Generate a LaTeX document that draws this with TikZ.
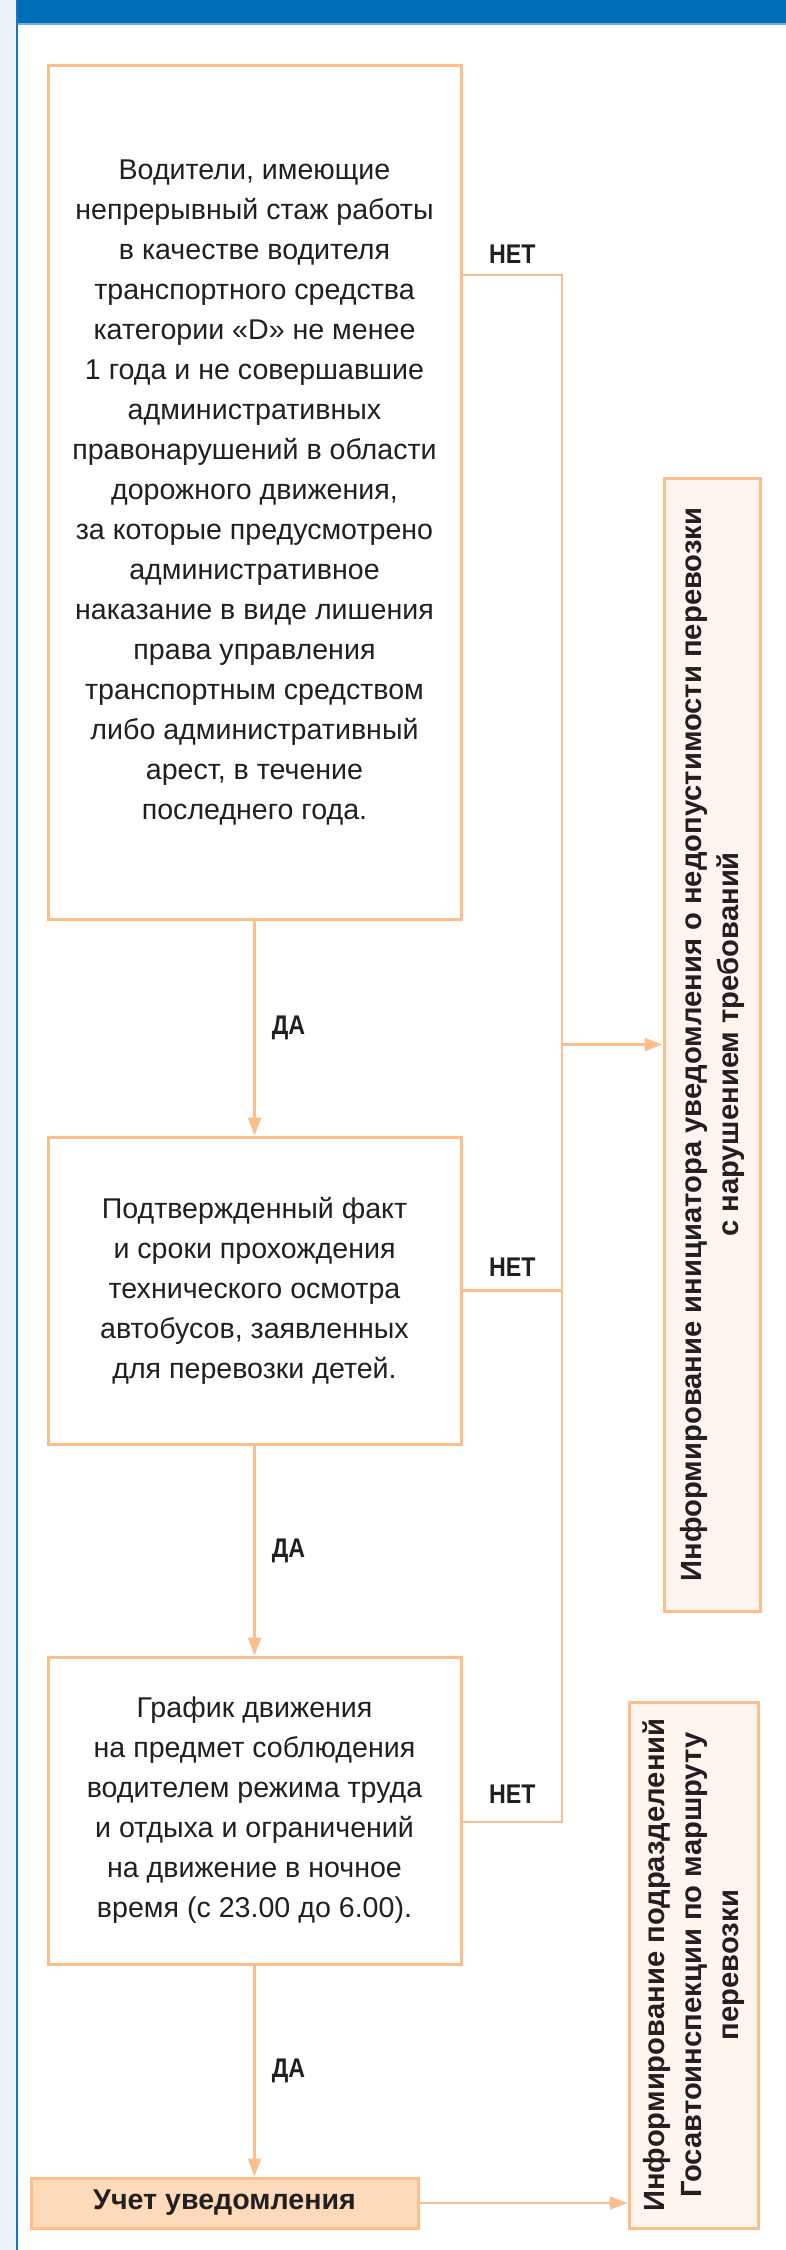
\documentclass[tikz,border=0pt]{standalone}
\usepackage{fontspec}
\setmainfont{Liberation Sans}
\newfontfamily\narrowfont[FakeStretch=0.86]{Liberation Sans}
\usetikzlibrary{positioning,calc,arrows.meta}

\definecolor{peach}{HTML}{FBBF8C}
\definecolor{peachfill}{HTML}{FDDBBA}
\definecolor{creamfill}{HTML}{FDF5EE}
\definecolor{headblue}{HTML}{006DB8}
\definecolor{edgeblue}{HTML}{1A74C0}
\definecolor{stripblue}{HTML}{E9F1F9}
\definecolor{inkgray}{HTML}{231F20}

\tikzset{
  checkbox/.style={draw=peach, line width=1.5pt, fill=white, inner sep=0pt, align=center,
    minimum width=206.5pt, text=inkgray, font=\fontsize{14.3}{20}\selectfont},
  recordbox/.style={draw=peach, line width=1.5pt, fill=peachfill, inner sep=0pt,
    minimum width=193.5pt, minimum height=25pt, text=inkgray, font=\bfseries\fontsize{14.3}{18}\selectfont},
  infobox/.style={draw=peach, line width=1.5pt, fill=creamfill, inner sep=0pt, align=center,
    rotate=90, text=inkgray, font=\bfseries\fontsize{14.6}{18.5}\selectfont},
  flow/.style={draw=peach, line width=1.3pt, -{Triangle[length=9pt,width=6.5pt]}},
  wire/.style={draw=peach, line width=1.3pt},
  answer/.style={inner sep=0pt, text=inkgray, font=\narrowfont\bfseries\fontsize{13.5}{16}\selectfont}
}

\begin{document}
\begin{tikzpicture}[x=0.5pt,y=-0.5pt]
  \useasboundingbox (0,0) rectangle (786,2250);
  % page frame
  \fill[stripblue] (0,0) rectangle (16,2250);
  \fill[headblue] (16,0) rectangle (786,23);
  \fill[headblue!55!white] (18,23) rectangle (786,25);
  \draw[edgeblue, line width=1.1pt] (17,0) -- (17,2250);

  % checks
  \node[checkbox, minimum height=427pt] (drivers) at (254.5,492)
    {Водители, имеющие\\непрерывный стаж работы\\в качестве водителя\\транспортного средства\\
     категории «D» не менее\\1 года и не совершавшие\\административных\\правонарушений в области\\
     дорожного движения,\\за которые предусмотрено\\административное\\наказание в виде лишения\\
     права управления\\транспортным средством\\либо административный\\арест, в течение\\последнего года.};
  \node[checkbox, minimum height=153.5pt] (techcheck) at (254.5,1290.5)
    {Подтвержденный факт\\и сроки прохождения\\технического осмотра\\автобусов, заявленных\\для перевозки детей.};
  \node[checkbox, minimum height=153.5pt] (schedule) at (254.5,1810.5)
    {График движения\\на предмет соблюдения\\водителем режима труда\\и отдыха и ограничений\\
     на движение в ночное\\время (с 23.00 до 6.00).};
  \node[recordbox] (record) at (224.5,2203) {Учет уведомления};

  % notices
  \node[infobox, minimum width=566.5pt, minimum height=48pt] (refusal) at (712,1044.5)
    {Информирование инициатора уведомления о недопустимости перевозки\\с нарушением требований};
  \node[infobox, minimum width=263pt, minimum height=64.5pt] (police) at (693.5,1965)
    {Информирование подразделений\\Госавтоинспекции по маршруту\\перевозки};

  % "no" branch
  \coordinate (bus1) at (562,275);
  \coordinate (bus3) at (562,1822);
  \draw[wire] (drivers.east |- bus1) -- (bus1) -- (bus3) -- (schedule.east |- bus3);
  \draw[wire] (techcheck.east) -- (techcheck.east -| bus1);
  \draw[flow] (bus1 |- refusal.north) -- (refusal.north);
  \node[answer, anchor=south, yshift=5.5pt] (no1) at ($(drivers.east |- bus1)!0.5!(bus1)$) {НЕТ};
  \node[answer, anchor=south, yshift=7pt] (no2) at ($(techcheck.east)!0.5!(techcheck.east -| bus1)$) {НЕТ};
  \node[answer, anchor=south, yshift=9pt] (no3) at ($(schedule.east |- bus3)!0.5!(bus3)$) {НЕТ};

  % "yes" branch
  \draw[flow] (drivers.south) -- (techcheck.north);
  \draw[flow] (techcheck.south) -- (schedule.north);
  \draw[flow] (schedule.south) -- (schedule.south |- record.north);
  \draw[flow] (record.east) -- (record.east -| police.north);
  \node[answer, anchor=west, xshift=8.5pt] (yes1) at ($(drivers.south)!0.5!(techcheck.north)$) {ДА};
  \node[answer, anchor=west, xshift=8.5pt] (yes2) at ($(techcheck.south)!0.5!(schedule.north)$) {ДА};
  \node[answer, anchor=west, xshift=8.5pt] (yes3) at ($(schedule.south)!0.5!(schedule.south |- record.north)$) {ДА};
\end{tikzpicture}
\end{document}
